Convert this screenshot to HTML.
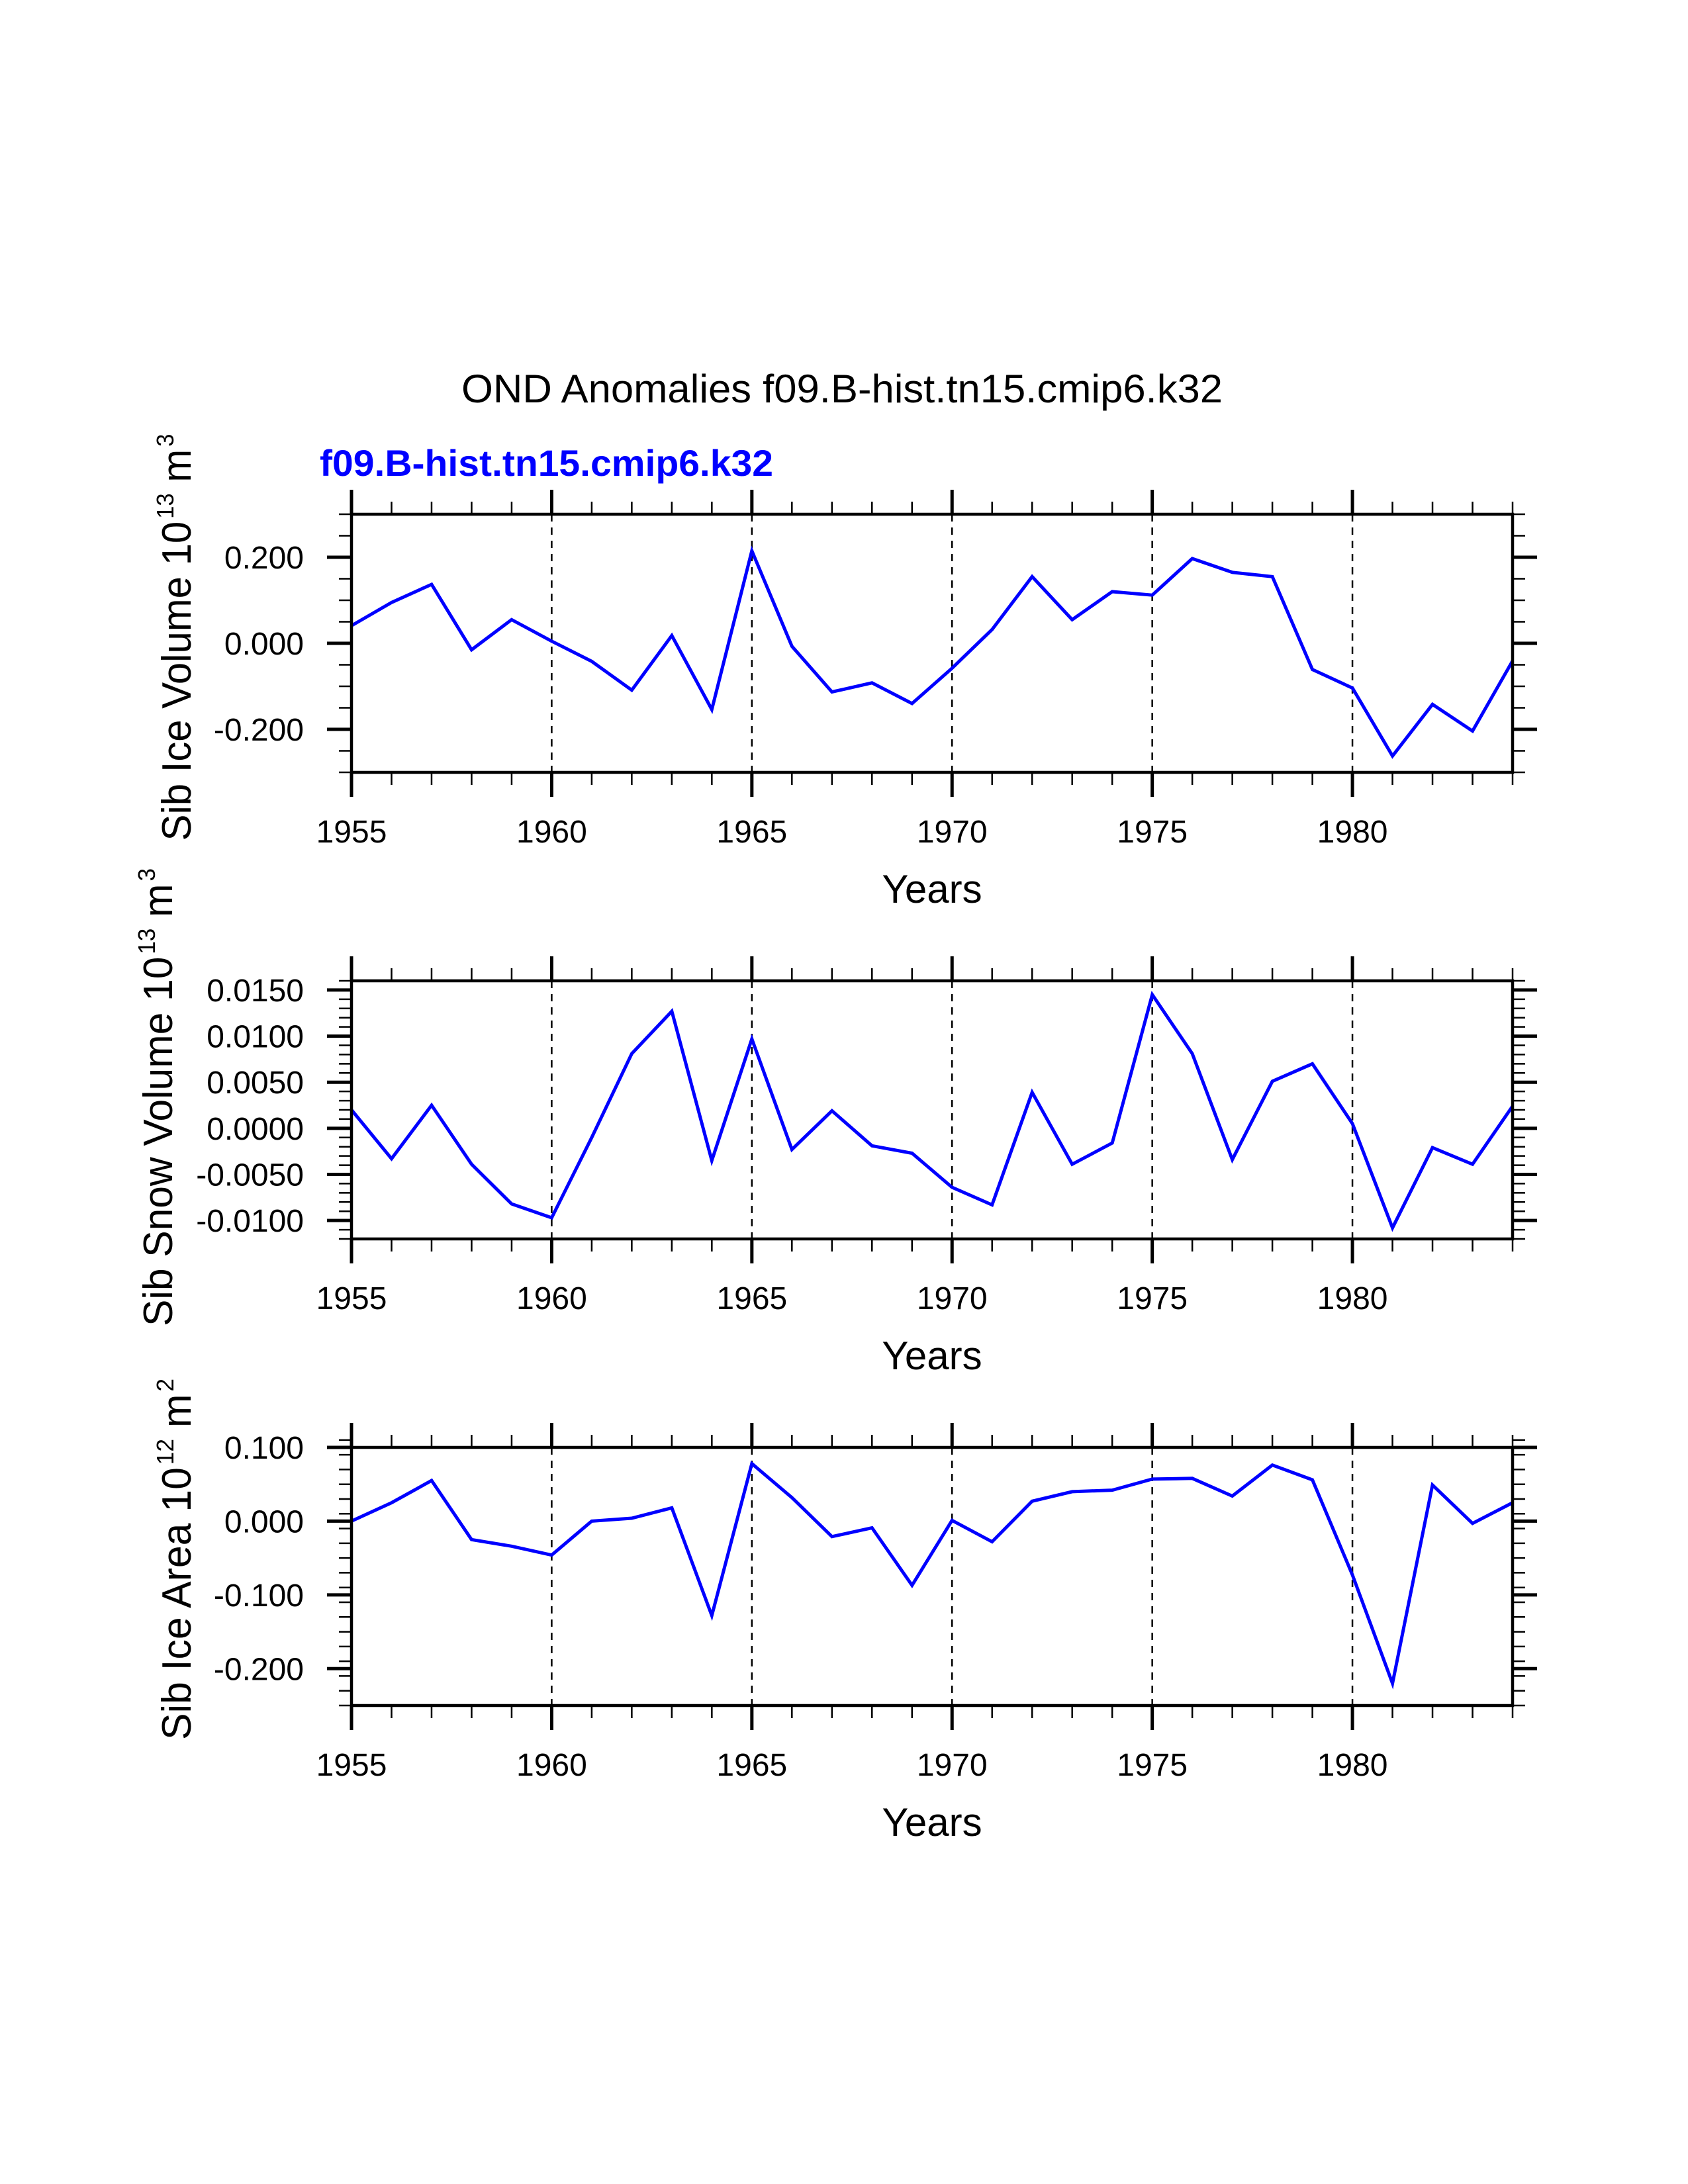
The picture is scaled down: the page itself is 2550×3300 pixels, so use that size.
<!DOCTYPE html>
<html>
<head>
<meta charset="utf-8">
<style>
  html, body { margin: 0; padding: 0; background: #ffffff; }
  svg { display: block; }
  text { font-family: "Liberation Sans", "DejaVu Sans", sans-serif; }
</style>
</head>
<body>
<svg id="chart" xmlns="http://www.w3.org/2000/svg" width="2550" height="3300" viewBox="0 0 2550 3300">
  <rect x="0" y="0" width="2550" height="3300" fill="#ffffff"/>
  <text x="697" y="608" font-size="60" textLength="1150" lengthAdjust="spacingAndGlyphs" fill="#000">OND Anomalies f09.B-hist.tn15.cmip6.k32</text>
  <text x="483" y="719" font-size="56" font-weight="bold" textLength="685" lengthAdjust="spacingAndGlyphs" fill="#0000ff">f09.B-hist.tn15.cmip6.k32</text>
</svg>
<script>
const years = [1955,1956,1957,1958,1959,1960,1961,1962,1963,1964,1965,1966,1967,1968,1969,1970,1971,1972,1973,1974,1975,1976,1977,1978,1979,1980,1981,1982,1983,1984];
const iceVolume = [0.041,0.095,0.137,-0.015,0.055,0.005,-0.042,-0.109,0.018,-0.154,0.215,-0.007,-0.113,-0.092,-0.140,-0.058,0.032,0.155,0.055,0.120,0.112,0.197,0.165,0.155,-0.061,-0.104,-0.262,-0.142,-0.204,-0.041];
const snowVolume = [0.0020,-0.0033,0.0025,-0.0039,-0.0082,-0.0097,-0.0010,0.0081,0.0127,-0.0035,0.0097,-0.0023,0.0019,-0.0019,-0.0027,-0.0064,-0.0083,0.0039,-0.0039,-0.0016,0.0145,0.0081,-0.0034,0.0051,0.0070,0.0005,-0.0108,-0.0021,-0.0039,0.0024];
const iceArea = [0.000,0.025,0.055,-0.025,-0.034,-0.046,0.000,0.004,0.018,-0.128,0.078,0.032,-0.021,-0.009,-0.087,0.001,-0.028,0.027,0.040,0.042,0.057,0.058,0.034,0.076,0.056,-0.073,-0.220,0.049,-0.003,0.025];
const iceVolumeTicks = ["-0.200","0.000","0.200"];
const snowVolumeTicks = ["-0.0100","-0.0050","0.0000","0.0050","0.0100","0.0150"];
const iceAreaTicks = ["-0.200","-0.100","0.000","0.100"];
const yearTicks = ["1955","1960","1965","1970","1975","1980"];

const NS = "http://www.w3.org/2000/svg";
const svg = document.getElementById("chart");
const X0 = 531, X1 = 2285;
const xScale = v => X0 + (v - 1955) / (1984 - 1955) * (X1 - X0);

function mk(tag, attrs, parent) {
  const e = document.createElementNS(NS, tag);
  for (const k in attrs) e.setAttribute(k, attrs[k]);
  (parent || svg).appendChild(e);
  return e;
}

const panels = [
  { name: "ice-volume", top: 777, bottom: 1167, ymin: -0.3, ymax: 0.3, minor: 0.05, vals: iceVolume, ticks: iceVolumeTicks,
    title: ["Sib Ice Volume 10", "13", " m", "3"], tx: 288, tcy: 963, tlen: 615 },
  { name: "snow-volume", top: 1482, bottom: 1872, ymin: -0.012, ymax: 0.016, minor: 0.001, vals: snowVolume, ticks: snowVolumeTicks,
    title: ["Sib Snow Volume 10", "13", " m", "3"], tx: 260, tcy: 1658, tlen: 692 },
  { name: "ice-area", top: 2187, bottom: 2577, ymin: -0.25, ymax: 0.1, minor: 0.02, vals: iceArea, ticks: iceAreaTicks,
    title: ["Sib Ice Area 10", "12", " m", "2"], tx: 288, tcy: 2356, tlen: 546 }
];

panels.forEach(p => {
  const g = mk("g", {});
  
  
  const yScale = v => p.bottom - (v - p.ymin) / (p.ymax - p.ymin) * (p.bottom - p.top);

  yearTicks.slice(1).forEach(t => {
    const x = xScale(+t);
    const l = mk("line", { x1: x, x2: x, y1: p.top, y2: p.bottom, stroke: "#000", "stroke-width": 2.5, "stroke-dasharray": "11 9" }, g);
    
    
  });

  const pts = p.vals.map((v, i) => xScale(years[i]).toFixed(1) + "," + yScale(v).toFixed(1)).join(" ");
  const pl = mk("polyline", { points: pts, fill: "none", stroke: "#0000ff", "stroke-width": 5, "stroke-linejoin": "miter" }, g);
  
  

  const fr = mk("rect", { x: X0, y: p.top, width: X1 - X0, height: p.bottom - p.top, fill: "none", stroke: "#000", "stroke-width": 4.5 }, g);
  
  

  years.forEach(yr => {
    const x = xScale(yr);
    const major = (yr % 5 === 0);
    const len = major ? 37 : 19;
    const w = major ? 5 : 2.5;
    mk("line", { x1: x, x2: x, y1: p.top, y2: p.top - len, stroke: "#000", "stroke-width": w }, g);
    mk("line", { x1: x, x2: x, y1: p.bottom, y2: p.bottom + len, stroke: "#000", "stroke-width": w }, g);
  });

  const nMin = Math.round((p.ymax - p.ymin) / p.minor);
  for (let i = 0; i <= nMin; i++) {
    const y = yScale(p.ymin + i * p.minor);
    mk("line", { x1: X0, x2: X0 - 19, y1: y, y2: y, stroke: "#000", "stroke-width": 2.5 }, g);
    mk("line", { x1: X1, x2: X1 + 19, y1: y, y2: y, stroke: "#000", "stroke-width": 2.5 }, g);
  }
  p.ticks.forEach(t => {
    const y = yScale(parseFloat(t));
    mk("line", { x1: X0, x2: X0 - 37, y1: y, y2: y, stroke: "#000", "stroke-width": 5 }, g);
    mk("line", { x1: X1, x2: X1 + 37, y1: y, y2: y, stroke: "#000", "stroke-width": 5 }, g);
    const tx = mk("text", { x: 459, y: y + 17, "font-size": 48, "text-anchor": "end", fill: "#000" }, g);
    tx.textContent = t;
    
    
  });

  yearTicks.forEach(t => {
    const tx = mk("text", { x: xScale(+t), y: p.bottom + 106, "font-size": 48, "text-anchor": "middle", fill: "#000" }, g);
    tx.textContent = t;
    
    
  });

  const xt = mk("text", { x: (X0 + X1) / 2, y: p.bottom + 197, "font-size": 60, "text-anchor": "middle", fill: "#000" }, g);
  xt.textContent = "Years";
  
  

  const yt = mk("text", { x: 0, y: 0, "font-size": 62, "text-anchor": "middle", fill: "#000",
    transform: "translate(" + p.tx + "," + p.tcy + ") rotate(-90)", textLength: p.tlen, lengthAdjust: "spacingAndGlyphs" }, g);
  
  
  const s1 = mk("tspan", {}, yt); s1.textContent = p.title[0];
  const s2 = mk("tspan", { dx: 4, dy: -26, "font-size": 36 }, yt); s2.textContent = p.title[1];
  const s3 = mk("tspan", { dy: 26 }, yt); s3.textContent = p.title[2];
  const s4 = mk("tspan", { dx: 4, dy: -26, "font-size": 36 }, yt); s4.textContent = p.title[3];
});
</script>
</body>
</html>
